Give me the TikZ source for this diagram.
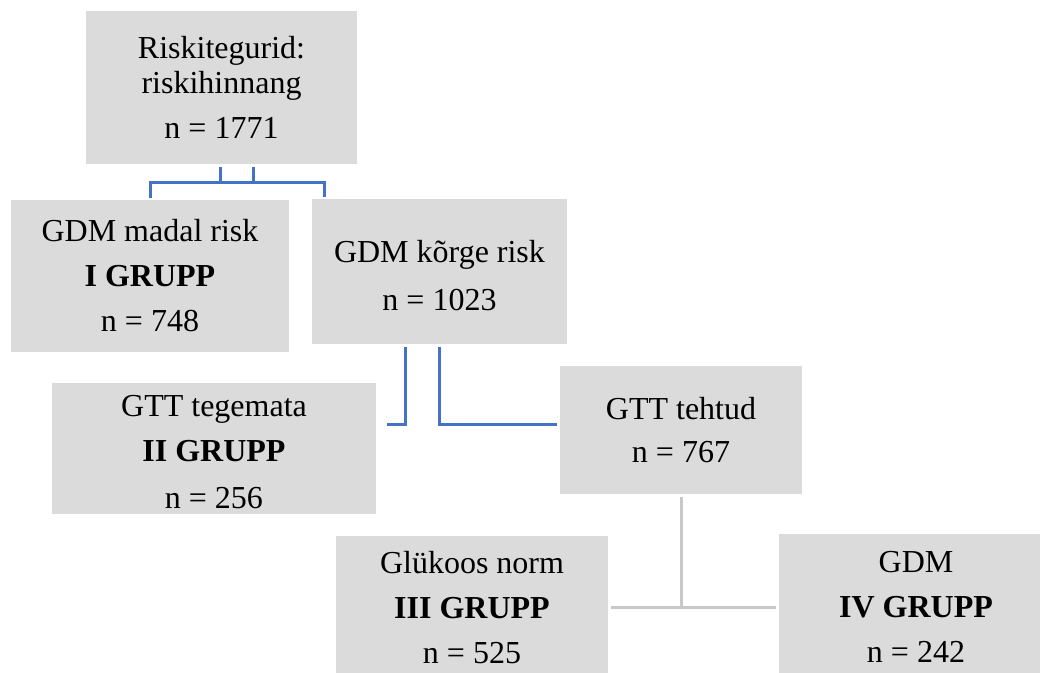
\documentclass[tikz,border=0pt]{standalone}
\usepackage{fontspec}
\setmainfont{Liberation Serif}
\usetikzlibrary{calc}
\definecolor{boxgray}{HTML}{DBDBDB}
\definecolor{lineblue}{HTML}{4472C4}
\definecolor{linegray}{HTML}{C8C8C8}
\tikzset{
  box/.style={fill=boxgray, draw=none, inner sep=0pt, align=center,
    font=\fontsize{32}{45}\selectfont},
  bl/.style={draw=lineblue, line width=3pt},
  gr/.style={draw=linegray, line width=3pt},
}
\begin{document}
\begin{tikzpicture}[x=1pt,y=-1pt]
\clip (0,0) rectangle (1040,672);
\fill[white] (0,0) rectangle (1040,672);

\node[box, minimum width=271pt, minimum height=153pt] (top) at (221.5,87.5)
  {Riskitegurid:\\[-10pt]riskihinnang\\n = 1771};
\node[box, minimum width=278pt, minimum height=152pt] (madal) at (150,276)
  {GDM madal risk\\\textbf{I GRUPP}\\n = 748};
\node[box, minimum width=255pt, minimum height=145pt] (korge) at (439.5,271.5)
  {\rule{0pt}{31pt}GDM kõrge risk\\[3pt]n = 1023};
\node[box, minimum width=324pt, minimum height=131pt] (tegemata) at (214,448.5)
  {\rule{0pt}{29pt}GTT tegemata\\\textbf{II GRUPP}\\[2pt]n = 256};
\node[box, minimum width=242pt, minimum height=128pt] (tehtud) at (681,430)
  {GTT tehtud\\[-2pt]n = 767};
\node[box, minimum width=272pt, minimum height=143pt] (norm) at (472,607.5)
  {Glükoos norm\\\textbf{III GRUPP}\\n = 525};
\node[box, minimum width=274pt, minimum height=146pt] (gdm) at (916,607)
  {GDM\\\textbf{IV GRUPP}\\n = 242};

% top connectors
\draw[bl] ($(top.south)+(-1.5,3)$) -- ($(top.south)+(-1.5,19)$);
\draw[bl] ($(top.south)+(31.5,3)$) -- ($(top.south)+(31.5,19)$);
\draw[bl] ($(madal.north)+(0,-2)$) |- ($(korge.north west)+(13,-16)$) -- ($(korge.north west)+(13,-2)$);

% korge connectors
\draw[bl] ($(korge.south)+(-34.5,3)$) |- ($(tegemata.east)+(11,-24.5)$);
\draw[bl] ($(korge.south)+(0,3)$) |- ($(tehtud.west)+(-3,-6)$);

% tehtud connectors
\draw[gr] ($(tehtud.south)+(0,3)$) -- ($(tehtud.south)+(0,113.5)$);
\draw[gr] ($(norm.east)+(3,0)$) -- ($(gdm.west)+(-3,0.5)$);
\end{tikzpicture}
\end{document}
